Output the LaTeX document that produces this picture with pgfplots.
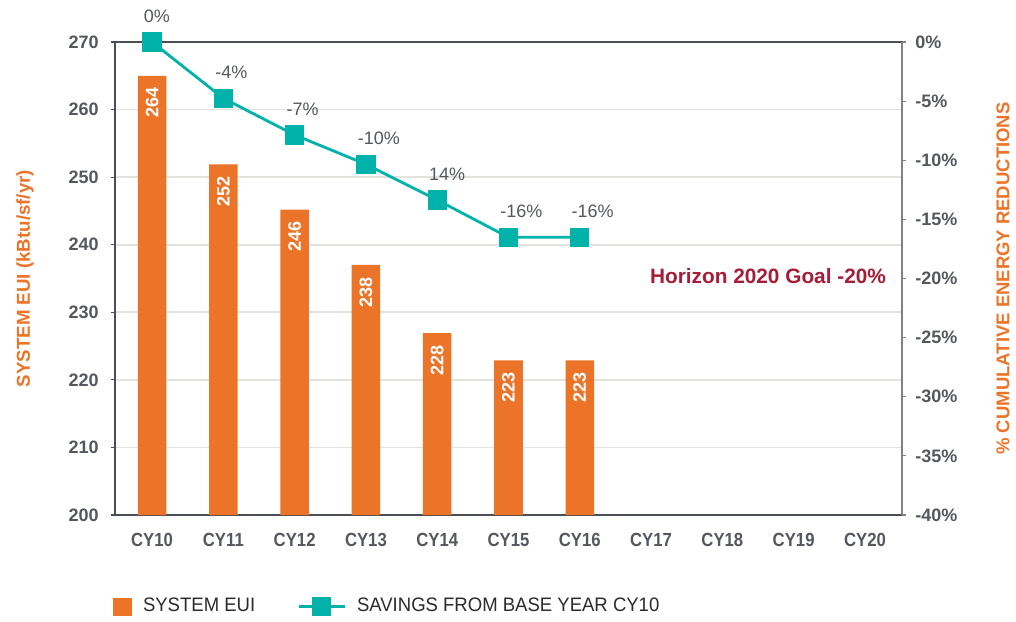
\documentclass[border=0pt]{standalone}
\usepackage{fontspec}
\setmainfont{Liberation Sans}
\newfontfamily\narrowfont{Liberation Sans}[FakeStretch=0.88]
\newfontfamily\legfont{Liberation Sans}[FakeStretch=0.95]
\usepackage{pgfplots}
\usepackage{pgfplotstable}
\pgfplotsset{compat=1.18}

\definecolor{eui}{HTML}{EC7429}
\definecolor{sav}{HTML}{00B2A9}
\definecolor{tickgray}{HTML}{54575E}
\definecolor{goalred}{HTML}{A51D36}
\definecolor{gridgray}{HTML}{E3E2DC}
\definecolor{axisdark}{HTML}{4B4E56}
\definecolor{axisright}{HTML}{7E8187}
\definecolor{legtext}{HTML}{2B2B2B}

\pgfplotsset{
  barlegend/.style={legend image code/.code={%
    \fill[##1] (0pt,-4.5pt) rectangle (9.5pt,4.5pt);}},
  linelegend/.style={legend image code/.code={%
    \draw[mark repeat=2, mark phase=2, ##1]
      plot coordinates {(0pt,0pt) (11.5pt,0pt) (23pt,0pt)};}},
}

% system EUI: bar height, printed label
\pgfplotstableread{
x y lab
0 265.0 264
1 251.9 252
2 245.2 246
3 237.0 238
4 226.9 228
5 222.9 223
6 222.9 223
}\euidata

% cumulative savings (%), printed label
\pgfplotstableread{
x y lab
0 0 0
1 -4.76 -4
2 -7.86 -7
3 -10.34 -10
4 -13.36 14
5 -16.52 -16
6 -16.52 -16
}\savdata

\begin{document}
\begin{tikzpicture}
\useasboundingbox (-57.5pt,-53pt) rectangle (450.5pt,257.5pt);
\begin{axis}[
  scale only axis, width=393.5pt, height=236.5pt,
  xmin=-0.52, xmax=10.52, ymin=200, ymax=270,
  /pgf/number format/assume math mode=true,
  axis x line=box, axis y line=left,
  axis line style={draw=axisdark, line width=0.8pt, -},
  tick align=outside, major tick length=2pt,
  tick style={color=axisdark, line width=0.6pt},
  xtick={0,...,10},
  xticklabels={CY10,CY11,CY12,CY13,CY14,CY15,CY16,CY17,CY18,CY19,CY20},
  xtick style={draw=none},
  xticklabel style={font=\narrowfont\bfseries\fontsize{9.5}{10}\selectfont,
    text=tickgray, anchor=base, yshift=-13.5pt},
  ytick={200,210,...,270}, ytick pos=left,
  yticklabel style={font=\bfseries\fontsize{9}{10}\selectfont,
    text=tickgray, inner xsep=0pt, xshift=-6pt},
  ymajorgrids, grid style={gridgray, line width=0.8pt},
  ylabel={SYSTEM EUI (kBtu/sf/yr)},
  ylabel style={font=\bfseries\fontsize{9.35}{11}\selectfont, text=eui,
    at={(axis description cs:-0.1144,0.5)}, anchor=center},
]
\addplot[ybar, bar width=0.4, fill=eui, draw=none,
  point meta=explicit symbolic, nodes near coords,
  every node near coord/.append style={rotate=90, anchor=east,
    inner xsep=5.8pt, text=white, font=\bfseries\fontsize{9}{10}\selectfont}]
  table[x=x, y=y, meta=lab] {\euidata};
\end{axis}

\begin{axis}[
  scale only axis, width=393.5pt, height=236.5pt,
  xmin=-0.52, xmax=10.52, ymin=-40, ymax=0,
  /pgf/number format/assume math mode=true,
  axis x line=none, axis y line*=right,
  y axis line style={draw=axisright, line width=0.8pt, -},
  tick align=outside, major tick length=2pt,
  tick style={color=axisright, line width=0.6pt},
  ytick={-40,-35,...,0},
  yticklabel={\pgfmathprintnumber{\tick}\%},
  yticklabel style={font=\bfseries\fontsize{9}{10}\selectfont,
    text=tickgray, inner xsep=0pt, xshift=4.5pt},
  ylabel={\% CUMULATIVE ENERGY REDUCTIONS},
  ylabel style={font=\bfseries\fontsize{9.25}{11}\selectfont, text=eui,
    at={(axis description cs:1.1283,0.5)}, anchor=center},
  clip=false,
  legend columns=2,
  legend style={draw=none, fill=none, inner sep=0pt,
    font=\legfont\fontsize{9.75}{11}\selectfont, text=legtext,
    at={(axis description cs:-0.003,-0.1935)}, anchor=west,
    /tikz/every odd column/.append style={column sep=3.5pt},
    /tikz/every even column/.append style={column sep=19pt}},
]
\addlegendimage{fill=eui, draw=none, barlegend}
\addlegendentry{SYSTEM EUI}
\addplot[sav, line width=1.4pt, mark=square*, mark size=4.1pt,
  mark options={solid, fill=sav, draw=sav},
  point meta=explicit symbolic, nodes near coords={\pgfplotspointmeta\%},
  every node near coord/.append style={anchor=base west, inner sep=0pt,
    xshift=-4.75pt, yshift=9.7pt, text=tickgray,
    font=\fontsize{9}{10}\selectfont},
  linelegend]
  table[x=x, y=y, meta=lab] {\savdata};
\addlegendentry{SAVINGS FROM BASE YEAR CY10}
\node[anchor=base east, inner sep=0pt, text=goalred,
  font=\bfseries\fontsize{10.4}{12}\selectfont]
  at (axis cs:10.30,-20.4) {Horizon 2020 Goal -20\%};
\end{axis}
\end{tikzpicture}
\end{document}
